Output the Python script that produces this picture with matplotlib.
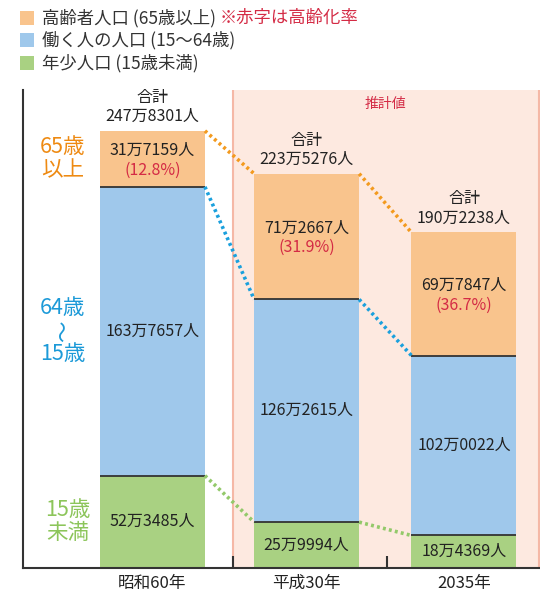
import matplotlib
matplotlib.use("Agg")
import matplotlib.pyplot as plt
from matplotlib.patches import Rectangle

plt.rcParams['font.family'] = ['Noto Sans CJK JP', 'DejaVu Sans']

categories = ['昭和60年', '平成30年', '2035年']
elderly = [317159, 712667, 697847]
working = [1637657, 1262615, 1020022]
young = [523485, 259994, 184369]
totals = [2478301, 2235276, 1902238]
rates = ['12.8%', '31.9%', '36.7%']
legend_labels = ['高齢者人口 (65歳以上)', '働く人の人口 (15〜64歳)', '年少人口 (15歳未満)']
legend_note = '※赤字は高齢化率'
side_labels = [['65歳', '以上'], ['64歳', '〜', '15歳'], ['15歳', '未満']]
estimate_label = '推計値'

C_OR = '#F9C48D'
C_BL = '#9FC8EB'
C_GR = '#A9D182'
T_OR = '#EE8A12'
T_BL = '#1C9AD8'
T_GR = '#8CC55A'
L_OR = '#F39A1E'
L_BL = '#1AA0DD'
L_GR = '#93C96A'
RED = '#D42B45'
DARK = '#333333'

def fmt(v):
    return f"{v // 10000}万{v % 10000:04d}人"

W, H = 540, 596
fig = plt.figure(figsize=(W / 100, H / 100), dpi=100)
ax = fig.add_axes([23 / W, 1 - 568 / H, (540 - 23) / W, (568 - 90) / H])

xs = [0, 0.99, 2]
bw = 0.674
ax.set_xlim(-0.831, 2.488)
ax.set_ylim(0, 271)

# shaded projection area
ax.axvspan(0.515, 2.48, facecolor='#FDE9E0', edgecolor='none', zorder=0)
ax.axvline(0.515, color='#F5B8A6', lw=1.5, zorder=0.5)
ax.axvline(2.48, color='#F5B8A6', lw=1.5, zorder=0.5)
ax.text((0.515 + 2.48) / 2, 263, estimate_label, color=RED, fontsize=10,
        ha='center', va='center')

y_sc = 1e4
yv = [v / y_sc for v in young]
wv = [v / y_sc for v in working]
ev = [v / y_sc for v in elderly]
ax.bar(xs, yv, bw, color=C_GR, zorder=2)
ax.bar(xs, wv, bw, bottom=yv, color=C_BL, zorder=2)
b2 = [a + b for a, b in zip(yv, wv)]
ax.bar(xs, ev, bw, bottom=b2, color=C_OR, zorder=2)
tops = [a + b for a, b in zip(b2, ev)]

# boundary lines
for x, a, b in zip(xs, yv, b2):
    ax.hlines([a, b], x - bw / 2, x + bw / 2, color=DARK, lw=1.3, zorder=3)

# dotted connectors
for i in range(2):
    x0 = xs[i] + bw / 2
    x1 = xs[i + 1] - bw / 2
    ax.plot([x0, x1], [tops[i], tops[i + 1]], color=L_OR, lw=2.6, ls=(0, (0.8, 0.9)), zorder=3)
    ax.plot([x0, x1], [b2[i], b2[i + 1]], color=L_BL, lw=2.6, ls=(0, (0.8, 0.9)), zorder=3)
    ax.plot([x0, x1], [yv[i], yv[i + 1]], color=L_GR, lw=2.6, ls=(0, (0.8, 0.9)), zorder=3)

fs = 11.5
for i, x in enumerate(xs):
    # totals
    ax.annotate('合計', (x, tops[i]), xytext=(0, 18), textcoords='offset points',
                ha='center', va='bottom', fontsize=fs, color='#222222')
    ax.annotate(fmt(totals[i]), (x, tops[i]), xytext=(0, 4), textcoords='offset points',
                ha='center', va='bottom', fontsize=fs, color='#222222')
    # elderly
    ec = b2[i] + ev[i] / 2
    ax.annotate(fmt(elderly[i]), (x, ec), xytext=(0, 6), textcoords='offset points',
                ha='center', va='center', fontsize=fs, color='#222222', zorder=4)
    ax.annotate(f'({rates[i]})', (x, ec), xytext=(0, -8), textcoords='offset points',
                ha='center', va='center', fontsize=fs, color=RED, zorder=4)
    # working
    ax.text(x, yv[i] + wv[i] / 2, fmt(working[i]), ha='center', va='center',
            fontsize=fs, color='#222222', zorder=4)
    # young
    ax.text(x, yv[i] / 2, fmt(young[i]), ha='center', va='center',
            fontsize=fs, color='#222222', zorder=4)

# side labels
lx = -0.575
sfs = 15.5
centers = [b2[0] + ev[0] / 2, yv[0] + wv[0] / 2, yv[0] / 2]
colors = [T_OR, T_BL, T_GR]
for lines, cy, col in zip(side_labels, centers, colors):
    n = len(lines)
    for k, s in enumerate(lines):
        off = ((n - 1) / 2 - k) * 16.5
        rot = 90 if s == '〜' else 0
        ax.annotate(s, (lx if col != T_GR else lx + 0.03, cy), xytext=(0, off),
                    textcoords='offset points', ha='center', va='center',
                    fontsize=sfs, color=col, rotation=rot)

# axes styling
for s in ['top', 'right']:
    ax.spines[s].set_visible(False)
for s in ['left', 'bottom']:
    ax.spines[s].set_color(DARK)
    ax.spines[s].set_linewidth(1.5)
ax.set_yticks([])
ax.set_xticks(xs)
ax.set_xticklabels(categories, fontsize=12, color='#222222')
ax.tick_params(axis='x', which='major', length=0, pad=5)
ax.set_xticks([0.515, 1.505], minor=True)
ax.tick_params(axis='x', which='minor', direction='in', length=9, width=1.5, color=DARK)

# legend
rows_y = [18, 40, 63]
fcol = [C_OR, C_BL, C_GR]
for ry, lab, col in zip(rows_y, legend_labels, fcol):
    fig.add_artist(Rectangle((20 / W, 1 - (ry + 7) / H), 14 / W, 14 / H,
                             transform=fig.transFigure, facecolor=col, edgecolor='none'))
    fig.text(42 / W, 1 - ry / H, lab, fontsize=12.5, color='#333333', va='center', ha='left')
fig.canvas.draw()
bb = fig.texts[0].get_window_extent()
fig.text((bb.x1 + 4) / W, 1 - rows_y[0] / H, legend_note, fontsize=12.5, color=RED,
         va='center', ha='left')

fig.savefig('out.png', dpi=100)
